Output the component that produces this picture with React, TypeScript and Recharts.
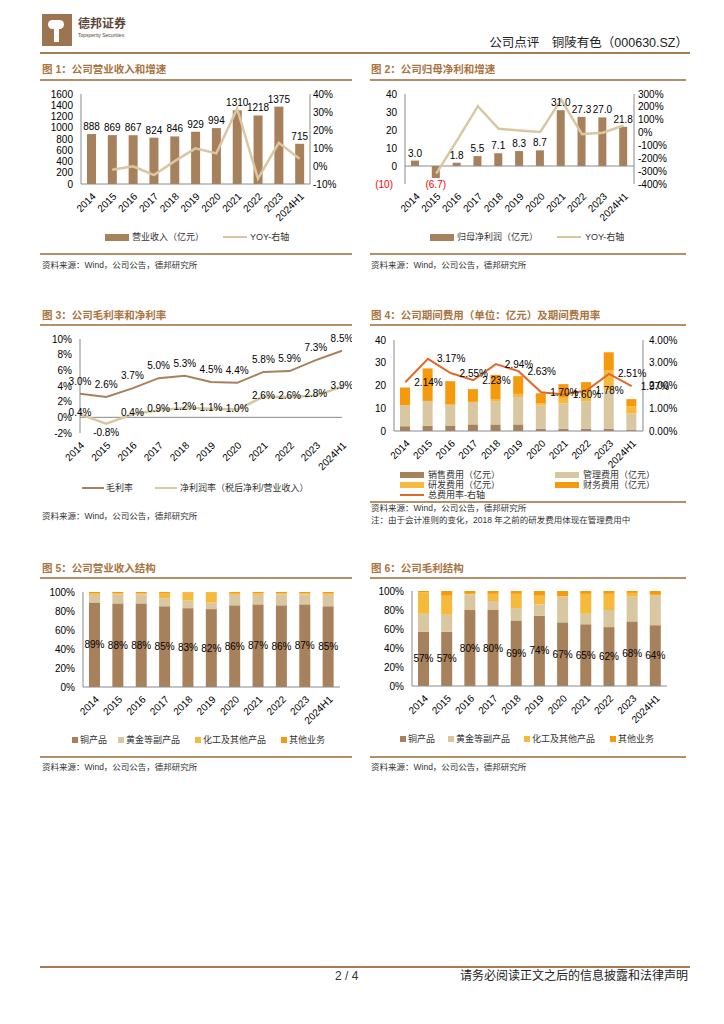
import React from "react";
import {
  Bar,
  ComposedChart,
  LabelList,
  Line,
  ReferenceLine,
  XAxis,
  YAxis,
} from "recharts";

// 年份
const years = ["2014", "2015", "2016", "2017", "2018", "2019", "2020", "2021", "2022", "2023", "2024H1"];

// 图1 营业收入（亿元）与 YOY（%）
const revenue = [888, 869, 867, 824, 846, 929, 994, 1310, 1218, 1375, 715];
const revenueYoy = [null, -2.1, -0.2, -5.0, 2.7, 9.8, 7.0, 31.8, -7.0, 12.9, 4.0];

// 图2 归母净利润（亿元）与 YOY（%）
const netProfit = [3.0, -6.7, 1.8, 5.5, 7.1, 8.3, 8.7, 31.0, 27.3, 27.0, 21.8];
const netProfitYoy = [null, -320, -60, 205, 29, 17, 5, 256, -12, -1, 55];

// 图3 毛利率 / 净利润率（%）
const grossMargin = [3.0, 2.6, 3.7, 5.0, 5.3, 4.5, 4.4, 5.8, 5.9, 7.3, 8.5];
const netMargin = [0.4, -0.8, 0.4, 0.9, 1.2, 1.1, 1.0, 2.6, 2.6, 2.8, 3.9];

// 图4 期间费用（亿元）及总费用率（%）
const sellingExp = [2.1, 2.3, 2.4, 2.9, 2.9, 2.9, 1.0, 1.0, 1.0, 1.0, 0.4];
const adminExp = [9.2, 10.9, 9.2, 9.9, 10.2, 12.0, 10.2, 11.2, 12.1, 16.9, 7.2];
const rdExp = [0, 0, 0, 0, 0.9, 1.4, 0.9, 2.4, 4.8, 8.9, 3.3];
const financeExp = [7.8, 14.3, 10.3, 5.6, 10.7, 7.8, 4.5, 6.0, 3.6, 7.8, 3.1];
const expenseRate = [2.14, 3.17, 2.55, 2.23, 2.94, 2.63, 1.7, 1.6, 1.78, 2.51, 1.97];

// 图5 营业收入结构（%）
const revCopper = [89, 88, 88, 85, 83, 82, 86, 87, 86, 87, 85];
const revGold = [8, 9.5, 9.5, 8.5, 8, 7, 11, 10, 11.5, 10.5, 12];
const revChem = [1.5, 1, 1, 5.5, 8.5, 10.5, 2, 1.5, 1, 1, 1.5];
const revOther = [1.5, 1.5, 1.5, 1, 0.5, 0.5, 1, 1.5, 1.5, 1.5, 1.5];

// 图6 毛利结构（%）
const gpCopper = [57, 57, 80, 80, 69, 74, 67, 65, 62, 68, 64];
const gpGold = [19, 18, 16.5, 9.5, 13, 12, 27, 11, 18, 26, 31];
const gpChem = [22.5, 20, 0.5, 7.5, 15, 9, 0.5, 21, 17, 4, 1];
const gpOther = [1.5, 5, 3, 3, 3, 5, 5.5, 3, 3, 2, 4];

const revData = years.map((year, i) => ({ year, revenue: revenue[i], yoy: revenueYoy[i] }));
const npData = years.map((year, i) => ({ year, profit: netProfit[i], yoy: netProfitYoy[i] }));
const marginData = years.map((year, i) => ({ year, gross: grossMargin[i], net: netMargin[i] }));
const expData = years.map((year, i) => ({
  year,
  selling: sellingExp[i],
  admin: adminExp[i],
  rd: rdExp[i],
  finance: financeExp[i],
  rate: expenseRate[i],
}));
const revMix = years.map((year, i) => ({
  year,
  copper: revCopper[i],
  gold: revGold[i],
  chem: revChem[i],
  other: revOther[i],
}));
const gpMix = years.map((year, i) => ({
  year,
  copper: gpCopper[i],
  gold: gpGold[i],
  chem: gpChem[i],
  other: gpOther[i],
}));

const BROWN = "#a7815c";
const TAN = "#d9c7a2";
const YELLOW = "#f5b93c";
const ORANGE = "#f59a0c";
const RED_LINE = "#e0692a";
const TITLE = "#a8743f";
const RULE = "#b58e6a";
const AXIS = "#8a8a8a";

const tickStyle = { fontSize: 10, fill: "#000" };

function T({ x, y, size = 9, color = "#333", bold = false, right = false, children }: any) {
  const style: any = {
    position: "absolute",
    top: y - size * 0.7,
    lineHeight: `${size * 1.4}px`,
    fontSize: size,
    color,
    fontWeight: bold ? 700 : 400,
    whiteSpace: "nowrap",
  };
  if (right) style.right = 724 - x;
  else style.left = x;
  return <div style={style}>{children}</div>;
}

function Rule({ x, y, w, h = 1.5, color = RULE }: any) {
  return <div style={{ position: "absolute", left: x, top: y, width: w, height: h, background: color }} />;
}

function BarIcon({ x, y, color, w = 24, h = 7 }: any) {
  return <div style={{ position: "absolute", left: x, top: y - h / 2, width: w, height: h, background: color }} />;
}

function LineIcon({ x, y, color, w = 24, h = 2.5 }: any) {
  return <div style={{ position: "absolute", left: x, top: y - h / 2, width: w, height: h, background: color }} />;
}

function Place({ x, y, children }: any) {
  return <div style={{ position: "absolute", left: x, top: y }}>{children}</div>;
}

const xAxisProps = {
  dataKey: "year",
  interval: 0 as const,
  angle: -45,
  textAnchor: "end",
  tick: tickStyle,
  tickLine: false,
};

function NetProfitLabel(props: any) {
  const vb = props.viewBox || props;
  const { x, y, width, height } = vb;
  const value = Number(props.value);
  const top = Math.min(y, y + height);
  const bottom = Math.max(y, y + height);
  const cx = x + width / 2;
  if (value < 0) {
    return (
      <text x={cx} y={bottom + 10} fill="#ff0000" fontSize={10} textAnchor="middle">
        ({Math.abs(value).toFixed(1)})
      </text>
    );
  }
  return (
    <text x={cx} y={top - 4} fill="#000" fontSize={10} textAnchor="middle">
      {value.toFixed(1)}
    </text>
  );
}

function NetMarginLabel(props: any) {
  const vb = props.viewBox || props;
  const value = Number(props.value);
  return (
    <text x={vb.x} y={vb.y + (value < 0 ? 12 : 2)} fill="#000" fontSize={10} textAnchor="middle">
      {value.toFixed(1)}%
    </text>
  );
}

function LeftTick2(props: any) {
  const { x, y, payload } = props;
  const v = payload.value;
  if (v < 0) {
    return (
      <text x={x - 4} y={y + 4} fill="#ff0000" fontSize={10} textAnchor="end">
        ({Math.abs(v)})
      </text>
    );
  }
  return (
    <text x={x} y={y + 4} fill="#000" fontSize={10} textAnchor="end">
      {v}
    </text>
  );
}

function Chart1() {
  return (
    <ComposedChart width={320} height={160} data={revData} margin={{ top: 10, right: 5, left: 0, bottom: 20 }}>
      <XAxis {...xAxisProps} height={40} axisLine={{ stroke: AXIS }} />
      <YAxis
        yAxisId="l"
        width={41}
        domain={[0, 1600]}
        ticks={[0, 200, 400, 600, 800, 1000, 1200, 1400, 1600]}
        interval={0}
        tick={tickStyle}
        tickLine={false}
        axisLine={{ stroke: AXIS }}
      />
      <YAxis
        yAxisId="r"
        orientation="right"
        width={45}
        domain={[-10, 40]}
        ticks={[-10, 0, 10, 20, 30, 40]}
        interval={0}
        tickFormatter={(v) => `${v}%`}
        tick={tickStyle}
        tickLine={false}
        tickSize={2}
        tickMargin={1}
        axisLine={{ stroke: AXIS }}
      />
      <Bar yAxisId="l" dataKey="revenue" fill={BROWN} barSize={9} isAnimationActive={false}>
        <LabelList dataKey="revenue" position="top" offset={4} fill="#000" fontSize={10} />
      </Bar>
      <Line yAxisId="r" dataKey="yoy" stroke={TAN} strokeWidth={2.5} dot={false} isAnimationActive={false} />
    </ComposedChart>
  );
}

function Chart2() {
  return (
    <ComposedChart width={320} height={160} data={npData} margin={{ top: 10, right: 5, left: 0, bottom: 20 }}>
      <XAxis {...xAxisProps} height={40} axisLine={false} />
      <YAxis
        yAxisId="l"
        width={40}
        domain={[-10, 40]}
        ticks={[-10, 0, 10, 20, 30, 40]}
        interval={0}
        tick={<LeftTick2 />}
        tickLine={false}
        axisLine={{ stroke: AXIS }}
      />
      <YAxis
        yAxisId="r"
        orientation="right"
        width={46}
        domain={[-400, 300]}
        ticks={[-400, -300, -200, -100, 0, 100, 200, 300]}
        interval={0}
        tickFormatter={(v) => `${v}%`}
        tick={tickStyle}
        tickLine={false}
        tickSize={2}
        tickMargin={2}
        axisLine={{ stroke: AXIS }}
      />
      <ReferenceLine yAxisId="l" y={0} stroke={AXIS} />
      <Bar yAxisId="l" dataKey="profit" fill={BROWN} barSize={8} isAnimationActive={false}>
        <LabelList dataKey="profit" content={<NetProfitLabel />} />
      </Bar>
      <Line yAxisId="r" dataKey="yoy" stroke={TAN} strokeWidth={2.5} dot={false} isAnimationActive={false} />
    </ComposedChart>
  );
}

function Chart3() {
  return (
    <ComposedChart width={312} height={160} data={marginData} margin={{ top: 10, right: 10, left: 0, bottom: 20 }}>
      <XAxis {...xAxisProps} height={36} axisLine={false} />
      <YAxis
        width={40}
        domain={[-2, 10]}
        ticks={[-2, 0, 2, 4, 6, 8, 10]}
        interval={0}
        tickFormatter={(v) => `${v}%`}
        tick={tickStyle}
        tickLine={false}
        axisLine={{ stroke: AXIS }}
      />
      <ReferenceLine y={0} stroke={AXIS} />
      <Line dataKey="gross" stroke={BROWN} strokeWidth={2} dot={false} isAnimationActive={false}>
        <LabelList
          dataKey="gross"
          position="top"
          offset={9}
          fill="#000"
          fontSize={10}
          formatter={(v: any) => `${Number(v).toFixed(1)}%`}
        />
      </Line>
      <Line dataKey="net" stroke={TAN} strokeWidth={2.5} dot={false} isAnimationActive={false}>
        <LabelList dataKey="net" content={<NetMarginLabel />} />
      </Line>
    </ComposedChart>
  );
}

function Chart4() {
  return (
    <ComposedChart width={325} height={160} data={expData} margin={{ top: 10, right: 2, left: 0, bottom: 20 }}>
      <XAxis {...xAxisProps} height={39} axisLine={{ stroke: AXIS }} />
      <YAxis
        yAxisId="l"
        width={29}
        domain={[0, 40]}
        ticks={[0, 10, 20, 30, 40]}
        interval={0}
        tick={tickStyle}
        tickLine={false}
        axisLine={{ stroke: AXIS }}
      />
      <YAxis
        yAxisId="r"
        orientation="right"
        width={45}
        domain={[0, 4]}
        ticks={[0, 1, 2, 3, 4]}
        interval={0}
        tickFormatter={(v) => `${Number(v).toFixed(2)}%`}
        tick={tickStyle}
        tickLine={false}
        tickSize={3}
        tickMargin={3}
        axisLine={{ stroke: AXIS }}
      />
      <Bar yAxisId="l" dataKey="selling" stackId="e" fill={BROWN} barSize={10} isAnimationActive={false} />
      <Bar yAxisId="l" dataKey="admin" stackId="e" fill={TAN} barSize={10} isAnimationActive={false} />
      <Bar yAxisId="l" dataKey="rd" stackId="e" fill={YELLOW} barSize={10} isAnimationActive={false} />
      <Bar yAxisId="l" dataKey="finance" stackId="e" fill={ORANGE} barSize={10} isAnimationActive={false} />
      <Line yAxisId="r" dataKey="rate" stroke={RED_LINE} strokeWidth={2} dot={false} isAnimationActive={false}>
        <LabelList
          dataKey="rate"
          position="right"
          offset={9}
          fill="#000"
          fontSize={10}
          formatter={(v: any) => `${Number(v).toFixed(2)}%`}
        />
      </Line>
    </ComposedChart>
  );
}

function MixChart({ data, width, yWidth, right }: any) {
  return (
    <ComposedChart width={width} height={160} data={data} margin={{ top: 10, right, left: 0, bottom: 20 }}>
      <XAxis {...xAxisProps} height={35} axisLine={{ stroke: AXIS }} />
      <YAxis
        width={yWidth}
        domain={[0, 100]}
        ticks={[0, 20, 40, 60, 80, 100]}
        interval={0}
        tickFormatter={(v) => `${v}%`}
        tick={tickStyle}
        tickLine={false}
        axisLine={{ stroke: AXIS }}
      />
      <Bar dataKey="copper" stackId="m" fill={BROWN} barSize={11} isAnimationActive={false}>
        <LabelList
          dataKey="copper"
          position="center"
          fill="#000"
          fontSize={10}
          formatter={(v: any) => `${v}%`}
        />
      </Bar>
      <Bar dataKey="gold" stackId="m" fill={TAN} barSize={11} isAnimationActive={false} />
      <Bar dataKey="chem" stackId="m" fill={YELLOW} barSize={11} isAnimationActive={false} />
      <Bar dataKey="other" stackId="m" fill={ORANGE} barSize={11} isAnimationActive={false} />
    </ComposedChart>
  );
}

function MixLegend({ y, xs }: any) {
  const items = [
    ["铜产品", BROWN],
    ["黄金等副产品", TAN],
    ["化工及其他产品", YELLOW],
    ["其他业务", ORANGE],
  ];
  return (
    <>
      {items.map(([label, color], i) => (
        <React.Fragment key={label}>
          <BarIcon x={xs[i]} y={y} color={color} w={6} h={6} />
          <T x={xs[i] + 8} y={y}>
            {label}
          </T>
        </React.Fragment>
      ))}
    </>
  );
}

const SOURCE = "资料来源：Wind，公司公告，德邦研究所";

export default function App() {
  return (
    <div
      style={{
        position: "absolute",
        left: 0,
        top: 0,
        width: 724,
        height: 1024,
        background: "#fff",
        overflow: "hidden",
        fontFamily: '"Liberation Sans", "Noto Sans CJK SC", sans-serif',
        color: "#000",
      }}
    >
      {/* 页眉 */}
      <div style={{ position: "absolute", left: 42, top: 14, width: 30, height: 32, background: "#9c7450" }}>
        <div style={{ position: "absolute", left: 6, top: 6, width: 16, height: 9, borderRadius: 5, background: "#fff" }} />
        <div style={{ position: "absolute", left: 12, top: 12, width: 5, height: 16, background: "#fff" }} />
      </div>
      <T x={78} y={24} size={12} bold color="#5a4636">
        德邦证券
      </T>
      <T x={78} y={35} size={5} color="#5a4636">
        Topsperity Securities
      </T>
      <T x={688} y={44} size={12.5} right color="#222">
        公司点评　铜陵有色（000630.SZ）
      </T>
      <Rule x={40} y={52} w={650} h={2} color="#a67c55" />

      {/* 图1 */}
      <T x={42} y={69} size={10.5} bold color={TITLE}>
        图 1：公司营业收入和增速
      </T>
      <Rule x={40} y={79} w={312} />
      <Place x={40} y={84}>
        <Chart1 />
      </Place>
      <BarIcon x={105} y={237} color={BROWN} />
      <T x={132} y={237}>营业收入（亿元）</T>
      <LineIcon x={223} y={237} color={TAN} />
      <T x={250} y={237}>YOY-右轴</T>
      <Rule x={40} y={253} w={312} />
      <T x={42} y={266} size={8.5}>
        {SOURCE}
      </T>

      {/* 图2 */}
      <T x={371} y={69} size={10.5} bold color={TITLE}>
        图 2：公司归母净利和增速
      </T>
      <Rule x={370} y={79} w={316} />
      <Place x={365} y={84}>
        <Chart2 />
      </Place>
      <BarIcon x={430} y={237} color={BROWN} />
      <T x={457} y={237}>归母净利润（亿元）</T>
      <LineIcon x={557} y={237} color={TAN} />
      <T x={585} y={237}>YOY-右轴</T>
      <Rule x={370} y={253} w={316} />
      <T x={371} y={266} size={8.5}>
        {SOURCE}
      </T>

      {/* 图3 */}
      <T x={42} y={315} size={10.5} bold color={TITLE}>
        图 3：公司毛利率和净利率
      </T>
      <Rule x={40} y={324} w={312} />
      <Place x={40} y={329}>
        <Chart3 />
      </Place>
      <LineIcon x={82} y={488} color={BROWN} w={22} h={2} />
      <T x={106} y={488}>毛利率</T>
      <LineIcon x={155} y={488} color={TAN} w={22} h={2.5} />
      <T x={180} y={488}>净利润率（税后净利/营业收入）</T>
      <T x={42} y={517} size={8.5}>
        {SOURCE}
      </T>

      {/* 图4 */}
      <T x={371} y={315} size={10.5} bold color={TITLE}>
        图 4：公司期间费用（单位：亿元）及期间费用率
      </T>
      <Rule x={370} y={324} w={316} />
      <Place x={365} y={330}>
        <Chart4 />
      </Place>
      <BarIcon x={400} y={475} color={BROWN} h={6} />
      <T x={428} y={475}>销售费用（亿元）</T>
      <BarIcon x={555} y={475} color={TAN} h={6} />
      <T x={583} y={475}>管理费用（亿元）</T>
      <BarIcon x={400} y={485} color={YELLOW} h={6} />
      <T x={428} y={485}>研发费用（亿元）</T>
      <BarIcon x={555} y={485} color={ORANGE} h={6} />
      <T x={583} y={485}>财务费用（亿元）</T>
      <LineIcon x={400} y={495} color={RED_LINE} h={2} />
      <T x={428} y={495}>总费用率-右轴</T>
      <Rule x={370} y={501} w={316} />
      <T x={371} y={509} size={8.5}>
        {SOURCE}
      </T>
      <T x={371} y={521} size={8.5}>
        注：由于会计准则的变化，2018 年之前的研发费用体现在管理费用中
      </T>

      {/* 图5 */}
      <T x={42} y={568} size={10.5} bold color={TITLE}>
        图 5：公司营业收入结构
      </T>
      <Rule x={40} y={577} w={312} />
      <Place x={40} y={582}>
        <MixChart data={revMix} width={312} yWidth={43} right={12} />
      </Place>
      <MixLegend y={740} xs={[72, 118, 195, 281]} />
      <Rule x={40} y={756} w={312} />
      <T x={42} y={768} size={8.5}>
        {SOURCE}
      </T>

      {/* 图6 */}
      <T x={371} y={568} size={10.5} bold color={TITLE}>
        图 6：公司毛利结构
      </T>
      <Rule x={370} y={577} w={316} />
      <Place x={365} y={581}>
        <MixChart data={gpMix} width={320} yWidth={47} right={18} />
      </Place>
      <MixLegend y={739} xs={[400, 448, 524, 610]} />
      <Rule x={370} y={756} w={316} />
      <T x={371} y={768} size={8.5}>
        {SOURCE}
      </T>

      {/* 页脚 */}
      <Rule x={40} y={966} w={650} h={2} color="#a67c55" />
      <T x={335} y={976} size={12}>
        2 / 4
      </T>
      <T x={688} y={976} size={12} right color="#222">
        请务必阅读正文之后的信息披露和法律声明
      </T>
    </div>
  );
}
